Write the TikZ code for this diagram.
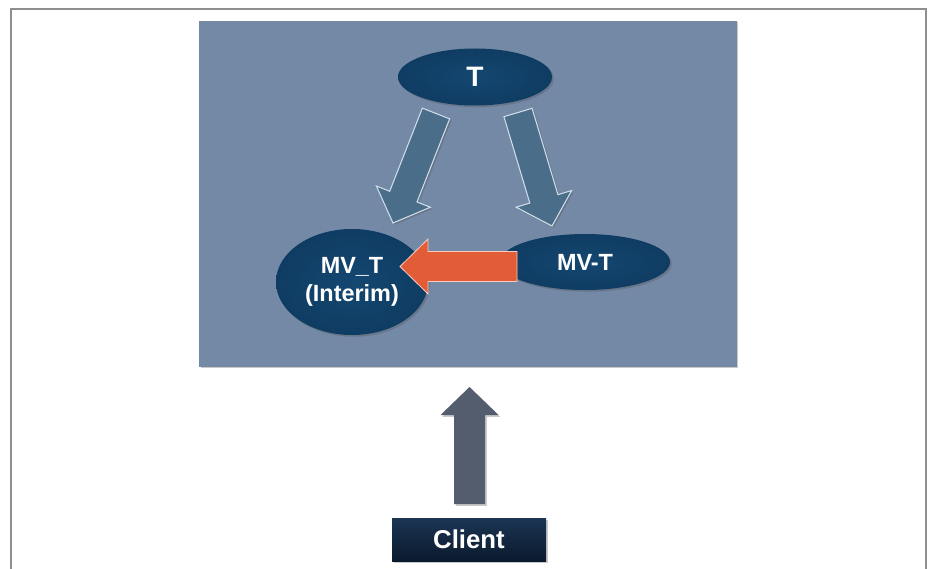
\documentclass[tikz,border=0pt]{standalone}
\usepackage{fontspec}
\setmainfont{Liberation Sans}
\usetikzlibrary{calc,shapes.geometric,shadows}

\definecolor{panelblue}{HTML}{7389A6}
\definecolor{navy}{HTML}{0F3C62}
\definecolor{navyglow}{HTML}{144771}
\definecolor{flowblue}{HTML}{4A6D8A}
\definecolor{flowedge}{HTML}{CFDDE8}
\definecolor{hotorange}{HTML}{E35C38}
\definecolor{hotedge}{HTML}{F6CDBE}
\definecolor{slate}{HTML}{545D6E}
\definecolor{clienttop}{HTML}{1B3553}
\definecolor{clientbottom}{HTML}{0A1A2D}
\definecolor{framegray}{HTML}{8E8E8E}

% Block arrow: #1 style, #2 tail, #3 tip, #4 half shaft, #5 half head, #6 head length
\newcommand{\flowarrow}[6]{%
  \path ($(#3)!#6!(#2)$) coordinate (fa-base);
  \draw[#1] ($(#2)!#4!90:(#3)$) -- ($(fa-base)!#4!90:(#3)$)
    -- ($(fa-base)!#5!90:(#3)$) -- (#3)
    -- ($(fa-base)!#5!-90:(#3)$) -- ($(fa-base)!#4!-90:(#3)$)
    -- ($(#2)!#4!-90:(#3)$) -- cycle;
}

\begin{document}
\begin{tikzpicture}[x=0.03cm,y=-0.03cm,
  softshadow/.style={drop shadow={shadow xshift=1.5pt, shadow yshift=-1.5pt, opacity=0.3, fill=black!70}},
  panel/.style={rectangle, fill=panelblue, inner sep=0pt, minimum width=16.12cm, minimum height=10.38cm, softshadow},
  store/.style={ellipse, inner sep=0pt, inner color=navyglow, outer color=navy, text=white, align=center,
    font=\bfseries\fontsize{20}{24}\selectfont, softshadow},
  flow/.style={fill=flowblue, draw=flowedge, line width=0.9pt, line join=miter, softshadow},
  hot/.style={fill=hotorange, draw=hotedge, line width=0.7pt, line join=miter},
  feed/.style={fill=slate, draw=none, softshadow},
  clientbox/.style={rectangle, inner sep=0pt, minimum width=4.62cm, minimum height=1.29cm,
    top color=clienttop, bottom color=clientbottom, text=white,
    font=\bfseries\fontsize{22}{26}\selectfont, softshadow}
]
\useasboundingbox (0,0) rectangle (933,569);

% page frame, open at the bottom
\draw[framegray, line width=1.5pt] (10.7,569) -- (10.7,8.7) -- (926.3,8.7) -- (926.3,569);

% background panel
\node[panel] (panel) at (468,193.7) {};

% tables
\node[store, minimum width=4.62cm, minimum height=1.71cm, font=\bfseries\fontsize{24}{28}\selectfont] (t) at (475,77) {T};
\node[store, minimum width=5.1cm, minimum height=1.68cm] (mv) at (585,262) {MV-T};
\node[store, minimum width=4.56cm, minimum height=3.18cm] (interim) at (352,282) {MV\_T\\(Interim)};

% arrow end points
\coordinate (tl) at (436,113.5);
\coordinate (il) at (393,223);
\coordinate (tr) at (518,112.5);
\coordinate (mr) at (552,226);
\coordinate (ms) at (517,266.5);
\coordinate (it) at (400,266.5);
\coordinate (cs) at (469.5,504);
\coordinate (pt) at (469.5,387);

\flowarrow{flow}{tl}{il}{0.44cm}{0.87cm}{0.85cm}
\flowarrow{flow}{tr}{mr}{0.44cm}{0.87cm}{0.85cm}
\flowarrow{hot}{ms}{it}{0.45cm}{0.825cm}{0.84cm}
\flowarrow{feed}{cs}{pt}{0.465cm}{0.87cm}{0.84cm}

% client
\node[clientbox] (client) at (469,539.5) {Client};
\end{tikzpicture}
\end{document}
